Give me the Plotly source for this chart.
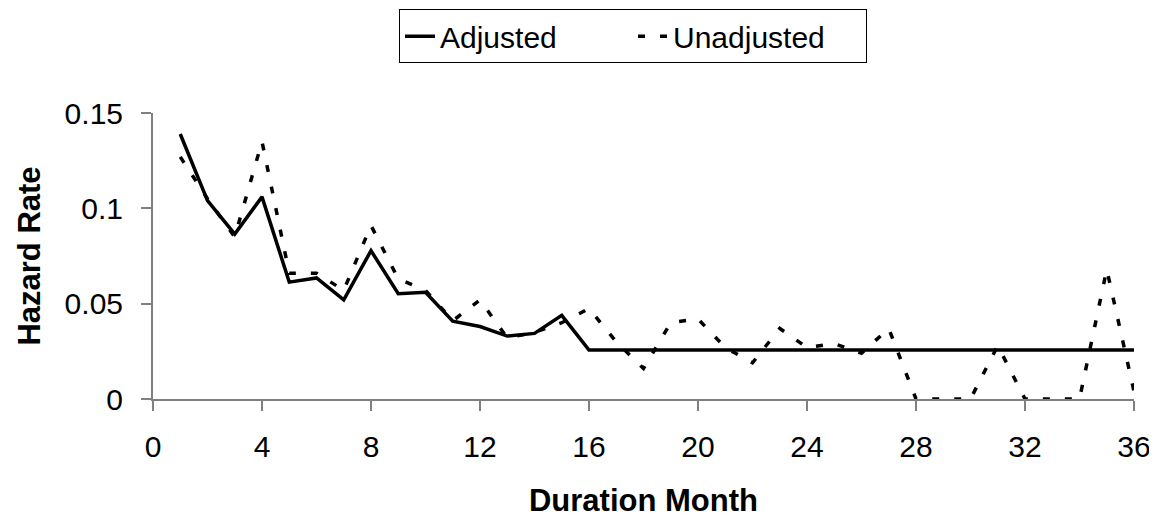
import plotly.graph_objects as go

months = list(range(1, 37))
adjusted = [0.139, 0.104, 0.0865, 0.106, 0.0613, 0.0635, 0.052, 0.0778, 0.0552, 0.056,
            0.0408, 0.038, 0.033, 0.0344, 0.0439, 0.0257, 0.0257, 0.0257, 0.0257, 0.0257,
            0.0257, 0.0257, 0.0257, 0.0257, 0.0257, 0.0257, 0.0257, 0.0257, 0.0257, 0.0257,
            0.0257, 0.0257, 0.0257, 0.0257, 0.0257, 0.0257]
unadjusted = [0.127, 0.105, 0.085, 0.135, 0.066, 0.066, 0.057, 0.091, 0.063, 0.057,
              0.041, 0.052, 0.032, 0.035, 0.040, 0.0474, 0.030, 0.016, 0.040, 0.042,
              0.027, 0.019, 0.037, 0.027, 0.029, 0.024, 0.037, 0.0, 0.0, 0.0,
              0.028, 0.0, 0.0, 0.0, 0.068, 0.004]
x_ticks = [0, 4, 8, 12, 16, 20, 24, 28, 32, 36]
y_ticks = [0, 0.05, 0.1, 0.15]

FONT = "Liberation Sans, Arial, sans-serif"

# the page body has an 8px margin, so the figure is 8px smaller than the window
W, H = 1149, 513

fig = go.Figure()
fig.add_trace(go.Scatter(x=months, y=adjusted, mode="lines", name="Adjusted",
                         line=dict(color="black", width=3.5)))
fig.add_trace(go.Scatter(x=months, y=unadjusted, mode="lines", name="Unadjusted",
                         line=dict(color="black", width=3.5, dash="7px,15px")))

fig.update_layout(
    width=W, height=H,
    margin=dict(l=145, r=23, t=105, b=122),
    paper_bgcolor="white", plot_bgcolor="white",
    font=dict(family=FONT, size=30, color="black"),
    showlegend=True,
    legend=dict(orientation="h", xref="container", yref="container",
                x=625 / W, xanchor="center", y=1 - 1.3 / H, yanchor="top",
                bordercolor="black", borderwidth=1, bgcolor="white",
                font=dict(family=FONT, size=30),
                entrywidth=188, entrywidthmode="pixels"),
    xaxis=dict(range=[0, 36], tickvals=x_ticks, ticks="outside", ticklen=10,
               tickcolor="#808080", tickwidth=2, showline=True, linecolor="#808080",
               linewidth=2, showgrid=False, zeroline=False, automargin=False,
               ticklabelstandoff=10,
               tickfont=dict(family=FONT, size=30),
               title=dict(text="<b>Duration Month</b>", font=dict(family=FONT, size=31),
                          standoff=27)),
    yaxis=dict(range=[0, 0.15], tickvals=y_ticks, ticks="outside", ticklen=10,
               tickcolor="#808080", tickwidth=2, showline=True, linecolor="#808080",
               linewidth=2, showgrid=False, zeroline=False, automargin=False,
               ticklabelstandoff=12,
               tickfont=dict(family=FONT, size=30),
               title=dict(text="<b>Hazard Rate</b>", font=dict(family=FONT, size=31),
                          standoff=15)),
)

fig.write_html("out.html")
